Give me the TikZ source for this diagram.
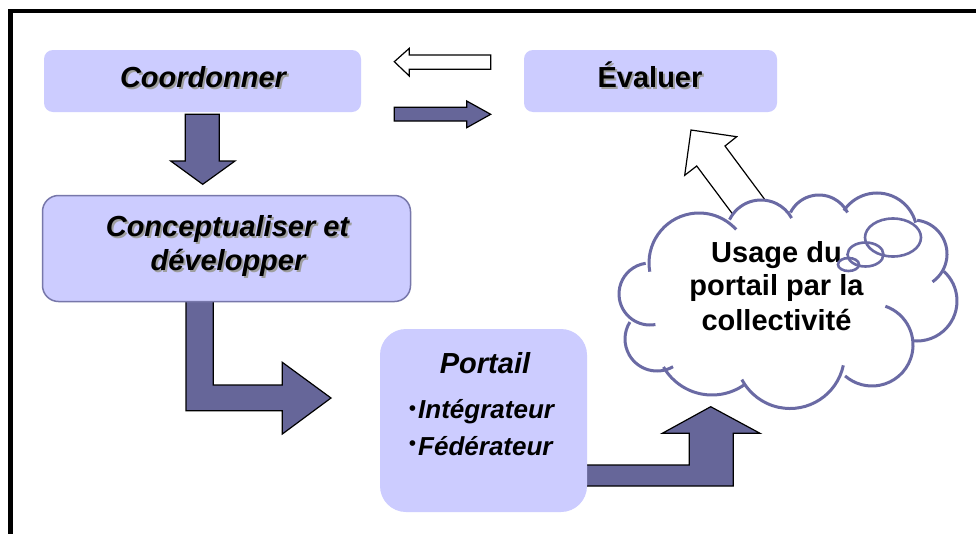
\documentclass[tikz,border=0pt]{standalone}
\usepackage{fontspec}
\setmainfont{Liberation Sans}
\definecolor{boxfill}{HTML}{CCCCFF}
\definecolor{arrowfill}{HTML}{666699}
\definecolor{boxline}{HTML}{7777AA}
\definecolor{cloudline}{HTML}{6A6AA4}
\tikzset{
  lbl/.style={font=\fontsize{29}{34}\selectfont\bfseries, inner sep=0pt, anchor=base},
  lbli/.style={lbl, font=\fontsize{29}{34}\selectfont\bfseries\itshape},
  lbls/.style={lbl, font=\fontsize{26}{30}\selectfont\bfseries\itshape, anchor=base west},
  shade/.style={text=black!38},
  box/.style={fill=boxfill, inner sep=0pt, rectangle},
  blockarrow/.style={fill=arrowfill, draw=black, line width=1.2pt, line join=miter},
  hollowarrow/.style={fill=white, draw=black, line width=1.2pt, line join=miter},
  cloudstroke/.style={draw=cloudline, line width=3pt},
  bulletmark/.style={font=\fontsize{21}{21}\selectfont, inner sep=0pt}
}
\begin{document}
\begin{tikzpicture}[x=1pt,y=1pt,yscale=-1]
\useasboundingbox (0,0) rectangle (976,533);
\clip (0,0) rectangle (976,533);
\fill[white] (0,0) rectangle (976,533);

% outer frame (only top and left edges fall inside the page)
\draw[line width=4.2pt, line join=miter] (10.5,545) -- (10.5,11) -- (990,11);

% block arrows drawn below the boxes they touch
\draw[blockarrow] (185.3,114.3) -- (219.3,114.3) -- (219.3,161) -- (235,161)
  -- (202.7,184.3) -- (170.7,161) -- (185.3,161) -- cycle;
\draw[blockarrow] (186,298) -- (213.3,298) -- (213.3,385) -- (282.3,385)
  -- (282.3,362.3) -- (331,398) -- (282.3,434) -- (282.3,410.7) -- (186,410.7) -- cycle;
\draw[blockarrow] (582,465) -- (689.3,465) -- (689.3,433.3) -- (662.3,433.3)
  -- (710.7,406.7) -- (760,433.3) -- (733.3,433.3) -- (733.3,486) -- (582,486) -- cycle;
% coordination arrows between the two top boxes
\draw[hollowarrow] (394.3,61.7) -- (409.3,48.3) -- (409.3,55) -- (490.7,55)
  -- (490.7,69.3) -- (409.3,69.3) -- (409.3,76) -- cycle;
\draw[blockarrow] (394.3,107.3) -- (466.7,107.3) -- (466.7,101) -- (490.7,114.3)
  -- (466.7,127.7) -- (466.7,121) -- (394.3,121) -- cycle;
% feedback arrow from the cloud towards the evaluation box
\draw[hollowarrow] (691,130) -- (736.7,136.7) -- (725,146) -- (780,220)
  -- (752,240) -- (696.7,166) -- (684.7,175.3) -- cycle;

% boxes
\node[box, minimum width=317pt, minimum height=62pt, rounded corners=9pt] (coordBox) at (202.5,81) {};
\node[box, minimum width=253pt, minimum height=62pt, rounded corners=9pt] (evalBox) at (650.5,81) {};
\node[box, draw=boxline, line width=1.5pt, minimum width=368pt, minimum height=106pt, rounded corners=16pt] (concBox) at (226.5,248.5) {};
\node[box, minimum width=207pt, minimum height=183pt, rounded corners=26pt] (portBox) at (483.5,420.5) {};

% box labels
\node[lbli, shade] (coordS) at (205,89.5) {Coordonner};
\node[lbli] (coord) at (203,87.5) {Coordonner};
\node[lbl, shade] (evalS) at (652,89.5) {Évaluer};
\node[lbl] (eval) at (650,87.5) {Évaluer};
\node[lbli, shade] (concAS) at (229.5,238.5) {Conceptualiser et};
\node[lbli] (concA) at (227.5,236.5) {Conceptualiser et};
\node[lbli, shade] (concBS) at (230,272.5) {développer};
\node[lbli] (concB) at (228,270.5) {développer};
\node[lbli] (port) at (485,373) {Portail};
\node[bulletmark] (bulA) at (412.5,410.5) {•};
\node[lbls] (integ) at (418,418) {Intégrateur};
\node[bulletmark] (bulB) at (412.5,446) {•};
\node[lbls] (feder) at (418,455) {Fédérateur};

% cloud: white body, then each puff as its own arc
\fill[white]
  ([shift={(699,263)}]170:50) arc[start angle=170, end angle=318, radius=50]
  -- ([shift={(761,235)}]206:35) arc[start angle=206, end angle=331, radius=35]
  -- ([shift={(819,227)}]207:32) arc[start angle=207, end angle=333, radius=32]
  -- ([shift={(877,233)}]214:40) arc[start angle=214, end angle=345, radius=40]
  -- ([shift={(913,254)}]-83:34) arc[start angle=-83, end angle=55, radius=34]
  -- ([shift={(917,301)}]-48:40) arc[start angle=-48, end angle=97, radius=40]
  -- ([shift={(872,345)}]-71:41) arc[start angle=-71, end angle=131, radius=41]
  -- ([shift={(790,354)}]12:54.5) arc[start angle=12, end angle=152, radius=54.5]
  -- ([shift={(712,339)}]54:56) arc[start angle=54, end angle=150, radius=56]
  -- ([shift={(657,339)}]60:32) arc[start angle=60, end angle=212, radius=32]
  -- ([shift={(650,294)}]80:31) arc[start angle=80, end angle=262, radius=31]
  -- cycle;
\draw[cloudstroke] ([shift={(699,263)}]170:50) arc[start angle=170, end angle=318, radius=50];
\draw[cloudstroke] ([shift={(761,235)}]206:35) arc[start angle=206, end angle=331, radius=35];
\draw[cloudstroke] ([shift={(819,227)}]207:32) arc[start angle=207, end angle=333, radius=32];
\draw[cloudstroke] ([shift={(877,233)}]214:40) arc[start angle=214, end angle=345, radius=40];
\draw[cloudstroke] ([shift={(913,254)}]-83:34) arc[start angle=-83, end angle=55, radius=34];
\draw[cloudstroke] ([shift={(917,301)}]-48:40) arc[start angle=-48, end angle=97, radius=40];
\draw[cloudstroke] ([shift={(872,345)}]-71:41) arc[start angle=-71, end angle=131, radius=41];
\draw[cloudstroke] ([shift={(790,354)}]12:54.5) arc[start angle=12, end angle=152, radius=54.5];
\draw[cloudstroke] ([shift={(712,339)}]54:56) arc[start angle=54, end angle=150, radius=56];
\draw[cloudstroke] ([shift={(657,339)}]60:32) arc[start angle=60, end angle=212, radius=32];
\draw[cloudstroke] ([shift={(650,294)}]80:31) arc[start angle=80, end angle=262, radius=31];

% cloud text
\node[lbl] (usageA) at (776.5,262) {Usage du};
\node[lbl] (usageB) at (776.5,295) {portail par la};
\node[lbl] (usageC) at (776.5,330) {collectivité};

% thought bubbles
\draw[cloudstroke, line width=2.6pt] (893,237.5) ellipse[x radius=28, y radius=19];
\draw[cloudstroke, line width=2.6pt] (865.5,254.5) ellipse[x radius=18, y radius=12];
\draw[cloudstroke, line width=2.6pt] (848.5,264.5) ellipse[x radius=10.5, y radius=6.5];
\end{tikzpicture}
\end{document}
